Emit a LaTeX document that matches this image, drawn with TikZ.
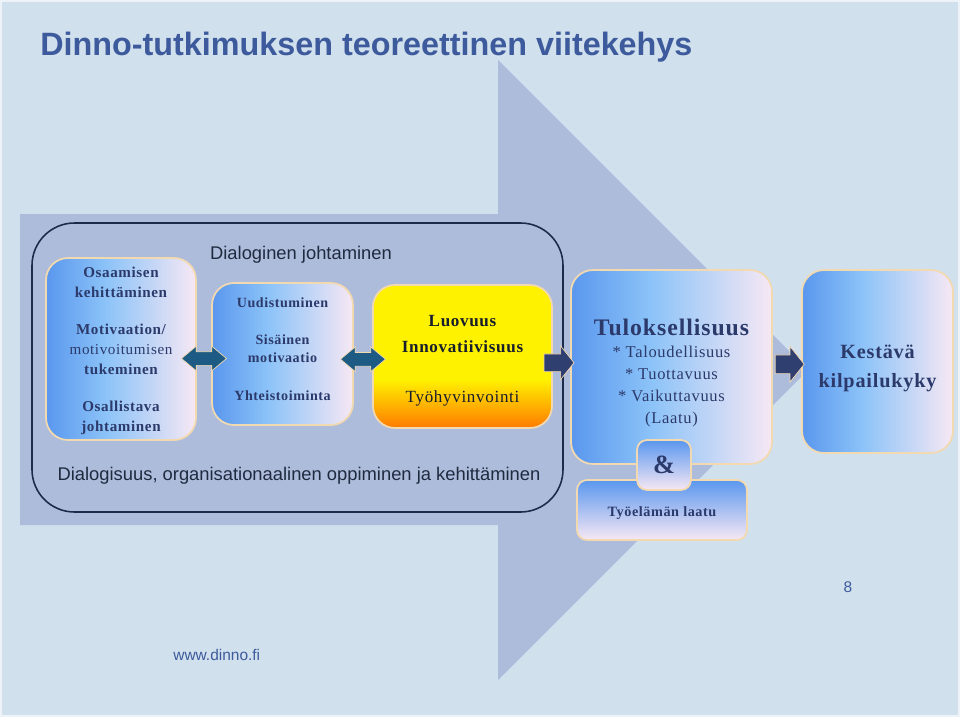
\documentclass[tikz,border=0pt]{standalone}
\usepackage{fontspec}
\setmainfont{Liberation Serif}
\newfontfamily\sansf{Liberation Sans}
\newfontfamily\boxf[LetterSpace=4]{Liberation Serif}
\usetikzlibrary{shapes.arrows,calc}

\definecolor{tausta}{HTML}{D1E0ED}
\definecolor{isonuoli}{HTML}{AEBCDC}
\definecolor{kehys}{HTML}{1E2A4A}
\definecolor{otsikko}{HTML}{3D5A9C}
\definecolor{teksti}{HTML}{1F2A3F}
\definecolor{laatikkoteksti}{HTML}{2B3A6B}
\definecolor{reuna}{HTML}{F3D9B0}
\definecolor{siniA}{HTML}{5A97EE}
\definecolor{siniB}{HTML}{8CC3F8}
\definecolor{vaalea}{HTML}{F7E8F4}
\definecolor{keltA}{HTML}{FFF200}
\definecolor{oranssi}{HTML}{FF7A00}
\definecolor{nuoliA}{HTML}{1D5B84}
\definecolor{nuoliB}{HTML}{2F3F70}

\pgfdeclarehorizontalshading{sinipuna}{100bp}{color(0bp)=(siniA); color(25bp)=(siniA); color(45bp)=(siniB); color(75bp)=(vaalea); color(100bp)=(vaalea)}
\pgfdeclareverticalshading{pystysini}{100bp}{color(0bp)=(vaalea); color(25bp)=(vaalea); color(75bp)=(siniA); color(100bp)=(siniA)}
\pgfdeclareverticalshading{keltainen}{100bp}{color(0bp)=(oranssi); color(25bp)=(oranssi); color(42bp)=(keltA); color(100bp)=(keltA)}

\begin{document}
\begin{tikzpicture}[x=0.02cm,y=-0.02cm,
  laatikko/.style={rounded corners=0.44cm, draw=reuna, line width=1pt, inner sep=0pt},
  sisalto/.style={align=center, inner sep=0pt, text=laatikkoteksti},
  kaksoisnuoli/.style={double arrow, fill=nuoliA, draw=reuna, line width=0.4pt, inner sep=0pt, minimum height=0.9cm, double arrow head extend=0.11cm, double arrow tip angle=80},
  nuoli/.style={single arrow, fill=nuoliB, draw=reuna, line width=0.4pt, inner sep=0pt, single arrow tip angle=103},
  pieni/.style={font=\boxf\bfseries\fontsize{8.6}{11.3}\selectfont}]
\useasboundingbox (0,0) rectangle (960,717);
\fill[tausta] (0,0) rectangle (960,717);
\draw[white!60!tausta, line width=0.04cm] (1,1) rectangle (959,716);
\fill[isonuoli] (20,214) -- (498,214) -- (498,60) -- (808,370) -- (498,680) -- (498,525) -- (20,525) -- cycle;
\draw[kehys, line width=0.9pt, rounded corners=0.85cm] (32,223) rectangle (563,512);

\node[anchor=base west, inner sep=0pt, text=otsikko, font=\sansf\bfseries\fontsize{18.4}{20}\selectfont] (otsikko) at (40,55) {Dinno-tutkimuksen teoreettinen viitekehys};
\node[anchor=base, inner sep=0pt, text=teksti, font=\sansf\fontsize{10.45}{12}\selectfont] (dialoginen) at (301,259) {Dialoginen johtaminen};
\node[anchor=base, inner sep=0pt, text=teksti, font=\sansf\fontsize{10.45}{12}\selectfont] (dialogisuus) at (299,480) {Dialogisuus, organisationaalinen oppiminen ja kehittäminen};

\node[laatikko, shading=sinipuna, minimum width=3cm, minimum height=3.64cm] (osaaminen) at (121,349) {};
\node[sisalto, pieni] (osaaminenteksti) at ($(osaaminen)+(0,2)$)
  {Osaamisen\\kehittäminen\\[10pt]Motivaation/\\{\mdseries motivoitumisen}\\tukeminen\\[10pt]Osallistava\\johtaminen};
\node[laatikko, shading=sinipuna, minimum width=2.82cm, minimum height=2.84cm] (motivaatio) at (282.5,354) {};
\node[sisalto, pieni, font=\boxf\bfseries\fontsize{8}{10.3}\selectfont] (motivaatioteksti) at ($(motivaatio)+(0,-5)$)
  {Uudistuminen\\[11pt]Sisäinen\\motivaatio\\[11pt]Yhteistoiminta};
\node[laatikko, shading=keltainen, minimum width=3.58cm, minimum height=2.86cm] (luovuus) at (462.5,356.5) {};
\node[sisalto, text=teksti!70!black, font=\boxf\fontsize{9.7}{14.7}\selectfont] (luovuusteksti) at ($(luovuus)+(0,4)$)
  {\bfseries Luovuus\\\bfseries Innovatiivisuus\\[13.6pt]Työhyvinvointi};
\node[laatikko, shading=pystysini, minimum width=3.4cm, minimum height=1.2cm, rounded corners=0.2cm] (laatu) at (662,510) {};
\node[sisalto, font=\boxf\bfseries\fontsize{8.1}{9}\selectfont] (laatuteksti) at ($(laatu)+(0,3)$) {Työelämän laatu};
\node[laatikko, shading=sinipuna, minimum width=4.02cm, minimum height=3.88cm] (tulos) at (671.5,367) {};
\node[sisalto, font=\boxf\fontsize{9.4}{12.5}\selectfont] (tulosteksti) at ($(tulos)+(0,6)$)
  {{\bfseries\fontsize{13.5}{14}\selectfont Tuloksellisuus}\\* Taloudellisuus\\* Tuottavuus\\* Vaikuttavuus\\(Laatu)};
\node[laatikko, shading=pystysini, minimum width=1.08cm, minimum height=1cm, rounded corners=0.2cm] (ja) at (664,465) {};
\node[sisalto, font=\boxf\bfseries\fontsize{15}{16}\selectfont] (jateksti) at (ja) {\&};
\node[laatikko, shading=sinipuna, minimum width=3.02cm, minimum height=3.66cm] (kestava) at (877.5,361.5) {};
\node[sisalto, font=\boxf\bfseries\fontsize{11.5}{16.4}\selectfont] (kestavateksti) at ($(kestava)+(0,7)$)
  {Kestävä\\kilpailukyky};

\node[kaksoisnuoli] (nuoli1) at ($(osaaminen.east)!0.5!(motivaatio.west)+(0,7)$) {\rule{0pt}{0.26cm}};
\node[kaksoisnuoli] (nuoli2) at ($(motivaatio.east)!0.5!(luovuus.west)+(0,4)$) {\rule{0pt}{0.26cm}};
\node[nuoli, minimum height=0.6cm, single arrow head extend=0.16cm] (nuoli3) at ($(luovuus.east)!0.5!(tulos.west)+(-6,1)$) {\rule{0pt}{0.34cm}};
\node[nuoli, minimum height=0.58cm, single arrow head extend=0.17cm] (nuoli4) at ($(tulos.east)!0.5!(kestava.west)+(-1,0)$) {\rule{0pt}{0.36cm}};

\node[anchor=base west, inner sep=0pt, text=otsikko, font=\sansf\fontsize{8.8}{9}\selectfont] (osoite) at (173,660) {www.dinno.fi};
\node[anchor=base, inner sep=0pt, text=otsikko, font=\sansf\fontsize{8.8}{9}\selectfont] (sivu) at (848,592) {8};
\end{tikzpicture}
\end{document}
